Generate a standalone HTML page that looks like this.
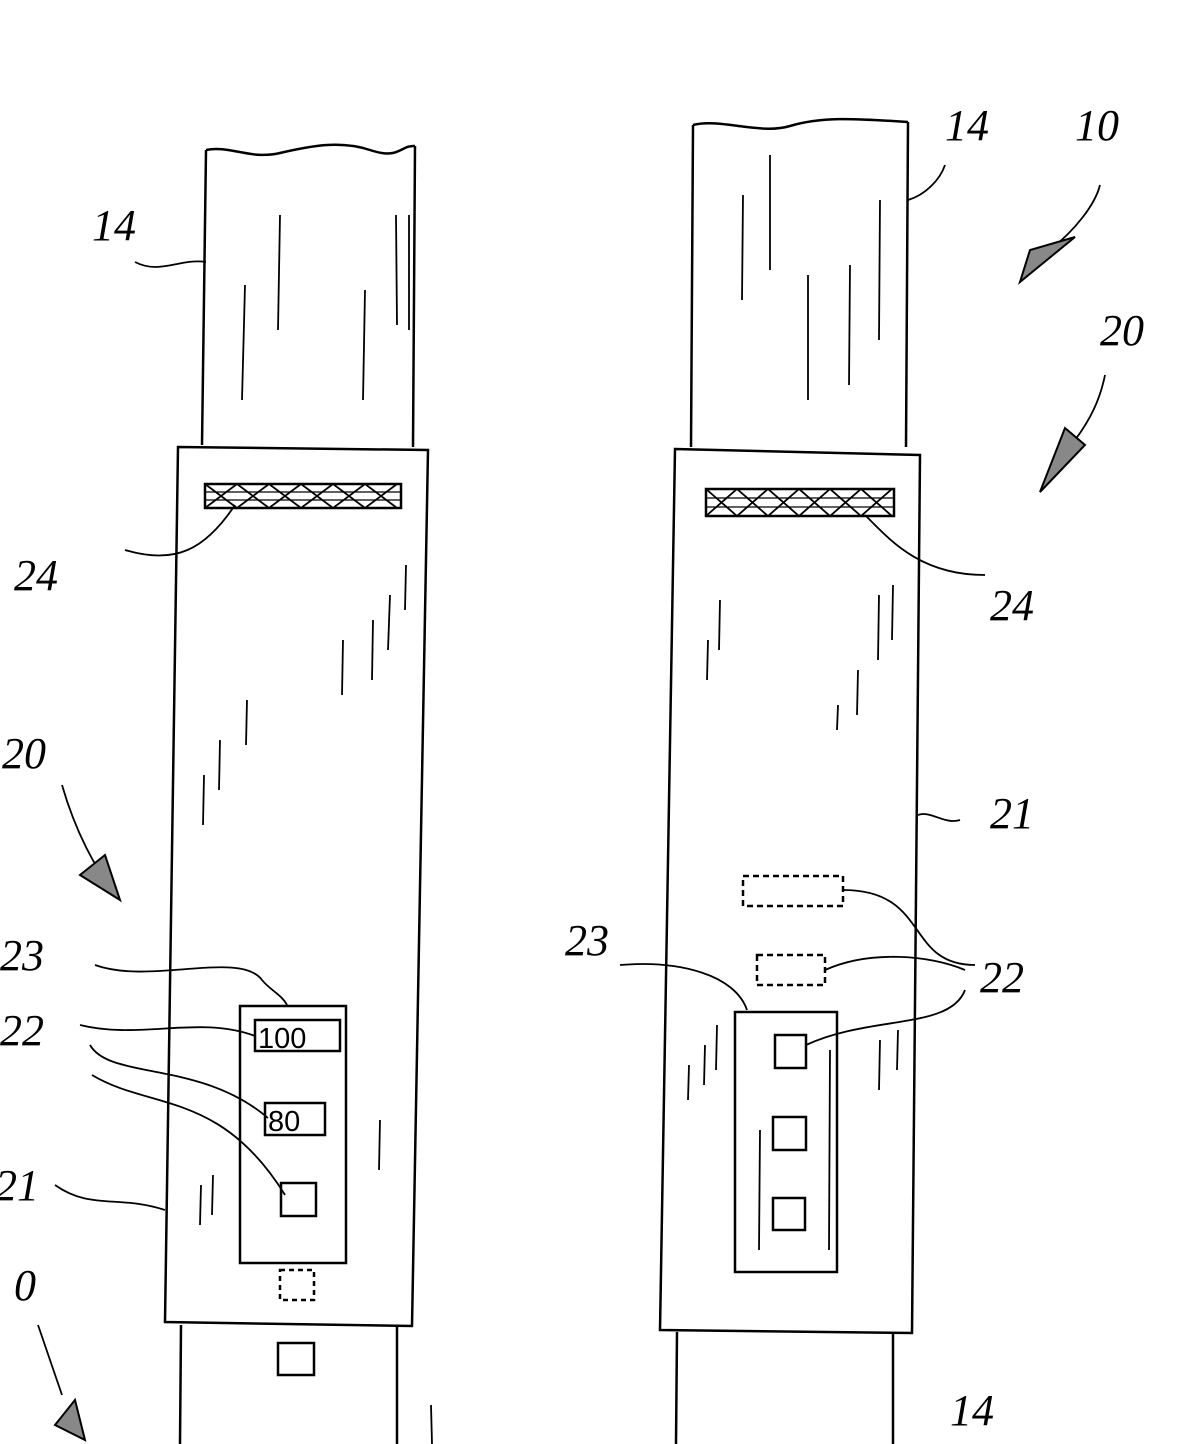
<!DOCTYPE html>
<html><head><meta charset="utf-8"><style>
html,body{margin:0;padding:0;background:#fff;width:1179px;height:1444px;overflow:hidden}
text{font-family:"Liberation Serif",serif;font-style:italic;fill:#000}
</style></head><body>
<svg width="1179" height="1444" viewBox="0 0 1179 1444" xmlns="http://www.w3.org/2000/svg" fill="none" stroke="#000" stroke-width="2.5">
<!-- LEFT POLE -->
<path d="M206 150 C230 145,250 160,280 153 S340 140,370 150 S400 145,415 146"/>
<path d="M206 150 L202 445"/><path d="M415 146 L413 447"/>
<path d="M178 447 L428 450 L412 1326 L165 1322 Z"/>
<path d="M181 1325 L180 1444"/><path d="M397 1326 L397 1444"/>
<g stroke-width="1.8">
<path d="M280 215 L278 330"/><path d="M245 285 L242 400"/><path d="M365 290 L363 400"/><path d="M396 215 L397 325"/><path d="M409 215 L409 330"/>
<path d="M406 565 L405 610"/><path d="M390 595 L388 650"/><path d="M373 620 L372 680"/><path d="M343 640 L342 695"/><path d="M247 700 L246 745"/><path d="M220 740 L219 790"/><path d="M204 775 L203 825"/><path d="M380 1120 L379 1170"/><path d="M213 1175 L212 1215"/><path d="M201 1185 L200 1225"/><path d="M431 1405 L432 1444"/>
</g>
<rect x="205" y="484" width="196" height="24"/>
<path d="M205 484 L237 508 L269 484 L301 508 L333 484 L365 508 L397 484 M205 508 L237 484 L269 508 L301 484 L333 508 L365 484 L397 508" stroke-width="1.8"/>
<path d="M205 492 L400 492 M205 500 L400 500" stroke-width="1.2"/>
<rect x="240" y="1006" width="106" height="257"/>
<rect x="255" y="1020" width="85" height="31"/>
<rect x="265" y="1103" width="60" height="32"/>
<rect x="281" y="1183" width="35" height="33"/>
<rect x="280" y="1270" width="34" height="30" stroke-dasharray="5,4"/>
<rect x="278" y="1343" width="36" height="32"/>
<!-- RIGHT POLE -->
<path d="M693 125 C720 118,760 135,790 126 S850 118,908 122"/>
<path d="M693 125 L691 447"/><path d="M908 122 L906 447"/>
<path d="M675 449 L920 455 L912 1333 L660 1330 Z"/>
<path d="M677 1332 L676 1444"/><path d="M893 1333 L893 1444"/>
<g stroke-width="1.8">
<path d="M743 195 L742 300"/><path d="M770 155 L770 270"/><path d="M808 275 L808 400"/><path d="M850 265 L849 385"/><path d="M880 200 L879 340"/>
<path d="M893 585 L892 640"/><path d="M879 595 L878 660"/><path d="M858 670 L857 715"/><path d="M838 705 L837 730"/><path d="M720 600 L719 650"/><path d="M708 640 L707 680"/><path d="M898 1030 L897 1070"/><path d="M880 1040 L879 1090"/><path d="M717 1025 L716 1070"/><path d="M705 1045 L704 1085"/><path d="M689 1065 L688 1100"/>
<path d="M830 1050 L829 1250"/><path d="M760 1130 L759 1250"/>
</g>
<rect x="706" y="489" width="188" height="27"/>
<path d="M706 489 L737 516 L768 489 L799 516 L830 489 L861 516 L892 489 M706 516 L737 489 L768 516 L799 489 L830 516 L861 489 L892 516" stroke-width="1.8"/>
<path d="M706 498 L894 498 M706 507 L894 507" stroke-width="1.2"/>
<rect x="743" y="876" width="100" height="30" stroke-dasharray="6,4"/>
<rect x="757" y="955" width="68" height="30" stroke-dasharray="6,4"/>
<rect x="735" y="1012" width="102" height="260"/>
<rect x="775" y="1035" width="31" height="33"/>
<rect x="773" y="1117" width="33" height="33"/>
<rect x="773" y="1198" width="32" height="32"/>
<g stroke-width="1.8">
<path d="M135 262 C160 275,180 258,206 262"/>
<path d="M125 550 C175 565,205 550,235 505"/>
<path d="M62 785 C75 830,95 870,120 900"/>
<path d="M95 965 C150 985,240 950,262 980 C270 990,282 995,287 1005"/>
<path d="M80 1025 C140 1040,200 1015,255 1036"/>
<path d="M90 1045 C110 1080,200 1060,268 1118"/>
<path d="M92 1075 C150 1110,220 1090,285 1195"/>
<path d="M55 1185 C90 1210,120 1195,165 1210"/>
<path d="M38 1325 L62 1395"/>
<path d="M945 165 C940 180,925 195,908 200"/>
<path d="M1100 185 C1095 205,1075 230,1050 250"/>
<path d="M1105 375 C1100 400,1090 420,1075 440"/>
<path d="M865 515 C890 540,920 575,985 575"/>
<path d="M960 820 C945 825,930 810,918 815"/>
<path d="M843 890 C930 890,905 965,975 965"/>
<path d="M825 970 C870 950,930 955,965 970"/>
<path d="M806 1045 C870 1015,950 1030,965 990"/>
<path d="M620 965 C680 960,735 975,747 1010"/>
</g>
<g fill="#888" stroke-width="2">
<path d="M1020 282 L1075 237 L1030 250 Z"/>
<path d="M1040 492 L1085 445 L1065 428 Z"/>
<path d="M80 875 L120 900 L105 855 Z"/>
<path d="M55 1425 L85 1440 L75 1400 Z"/>
</g>
<g stroke="none" font-size="44">
<text x="92" y="240">14</text>
<text x="14" y="590">24</text>
<text x="2" y="768">20</text>
<text x="0" y="970">23</text>
<text x="0" y="1045">22</text>
<text x="-5" y="1200">21</text>
<text x="14" y="1300">0</text>
<text x="945" y="140">14</text>
<text x="1075" y="140">10</text>
<text x="1100" y="345">20</text>
<text x="990" y="620">24</text>
<text x="990" y="828">21</text>
<text x="565" y="955">23</text>
<text x="980" y="992">22</text>
<text x="950" y="1425">14</text>
</g>
<text x="258" y="1048" font-size="29" stroke="none" style="font-style:normal;font-family:'Liberation Sans',sans-serif">100</text>
<text x="268" y="1131" font-size="29" stroke="none" style="font-style:normal;font-family:'Liberation Sans',sans-serif">80</text>
</svg>
</body></html>
